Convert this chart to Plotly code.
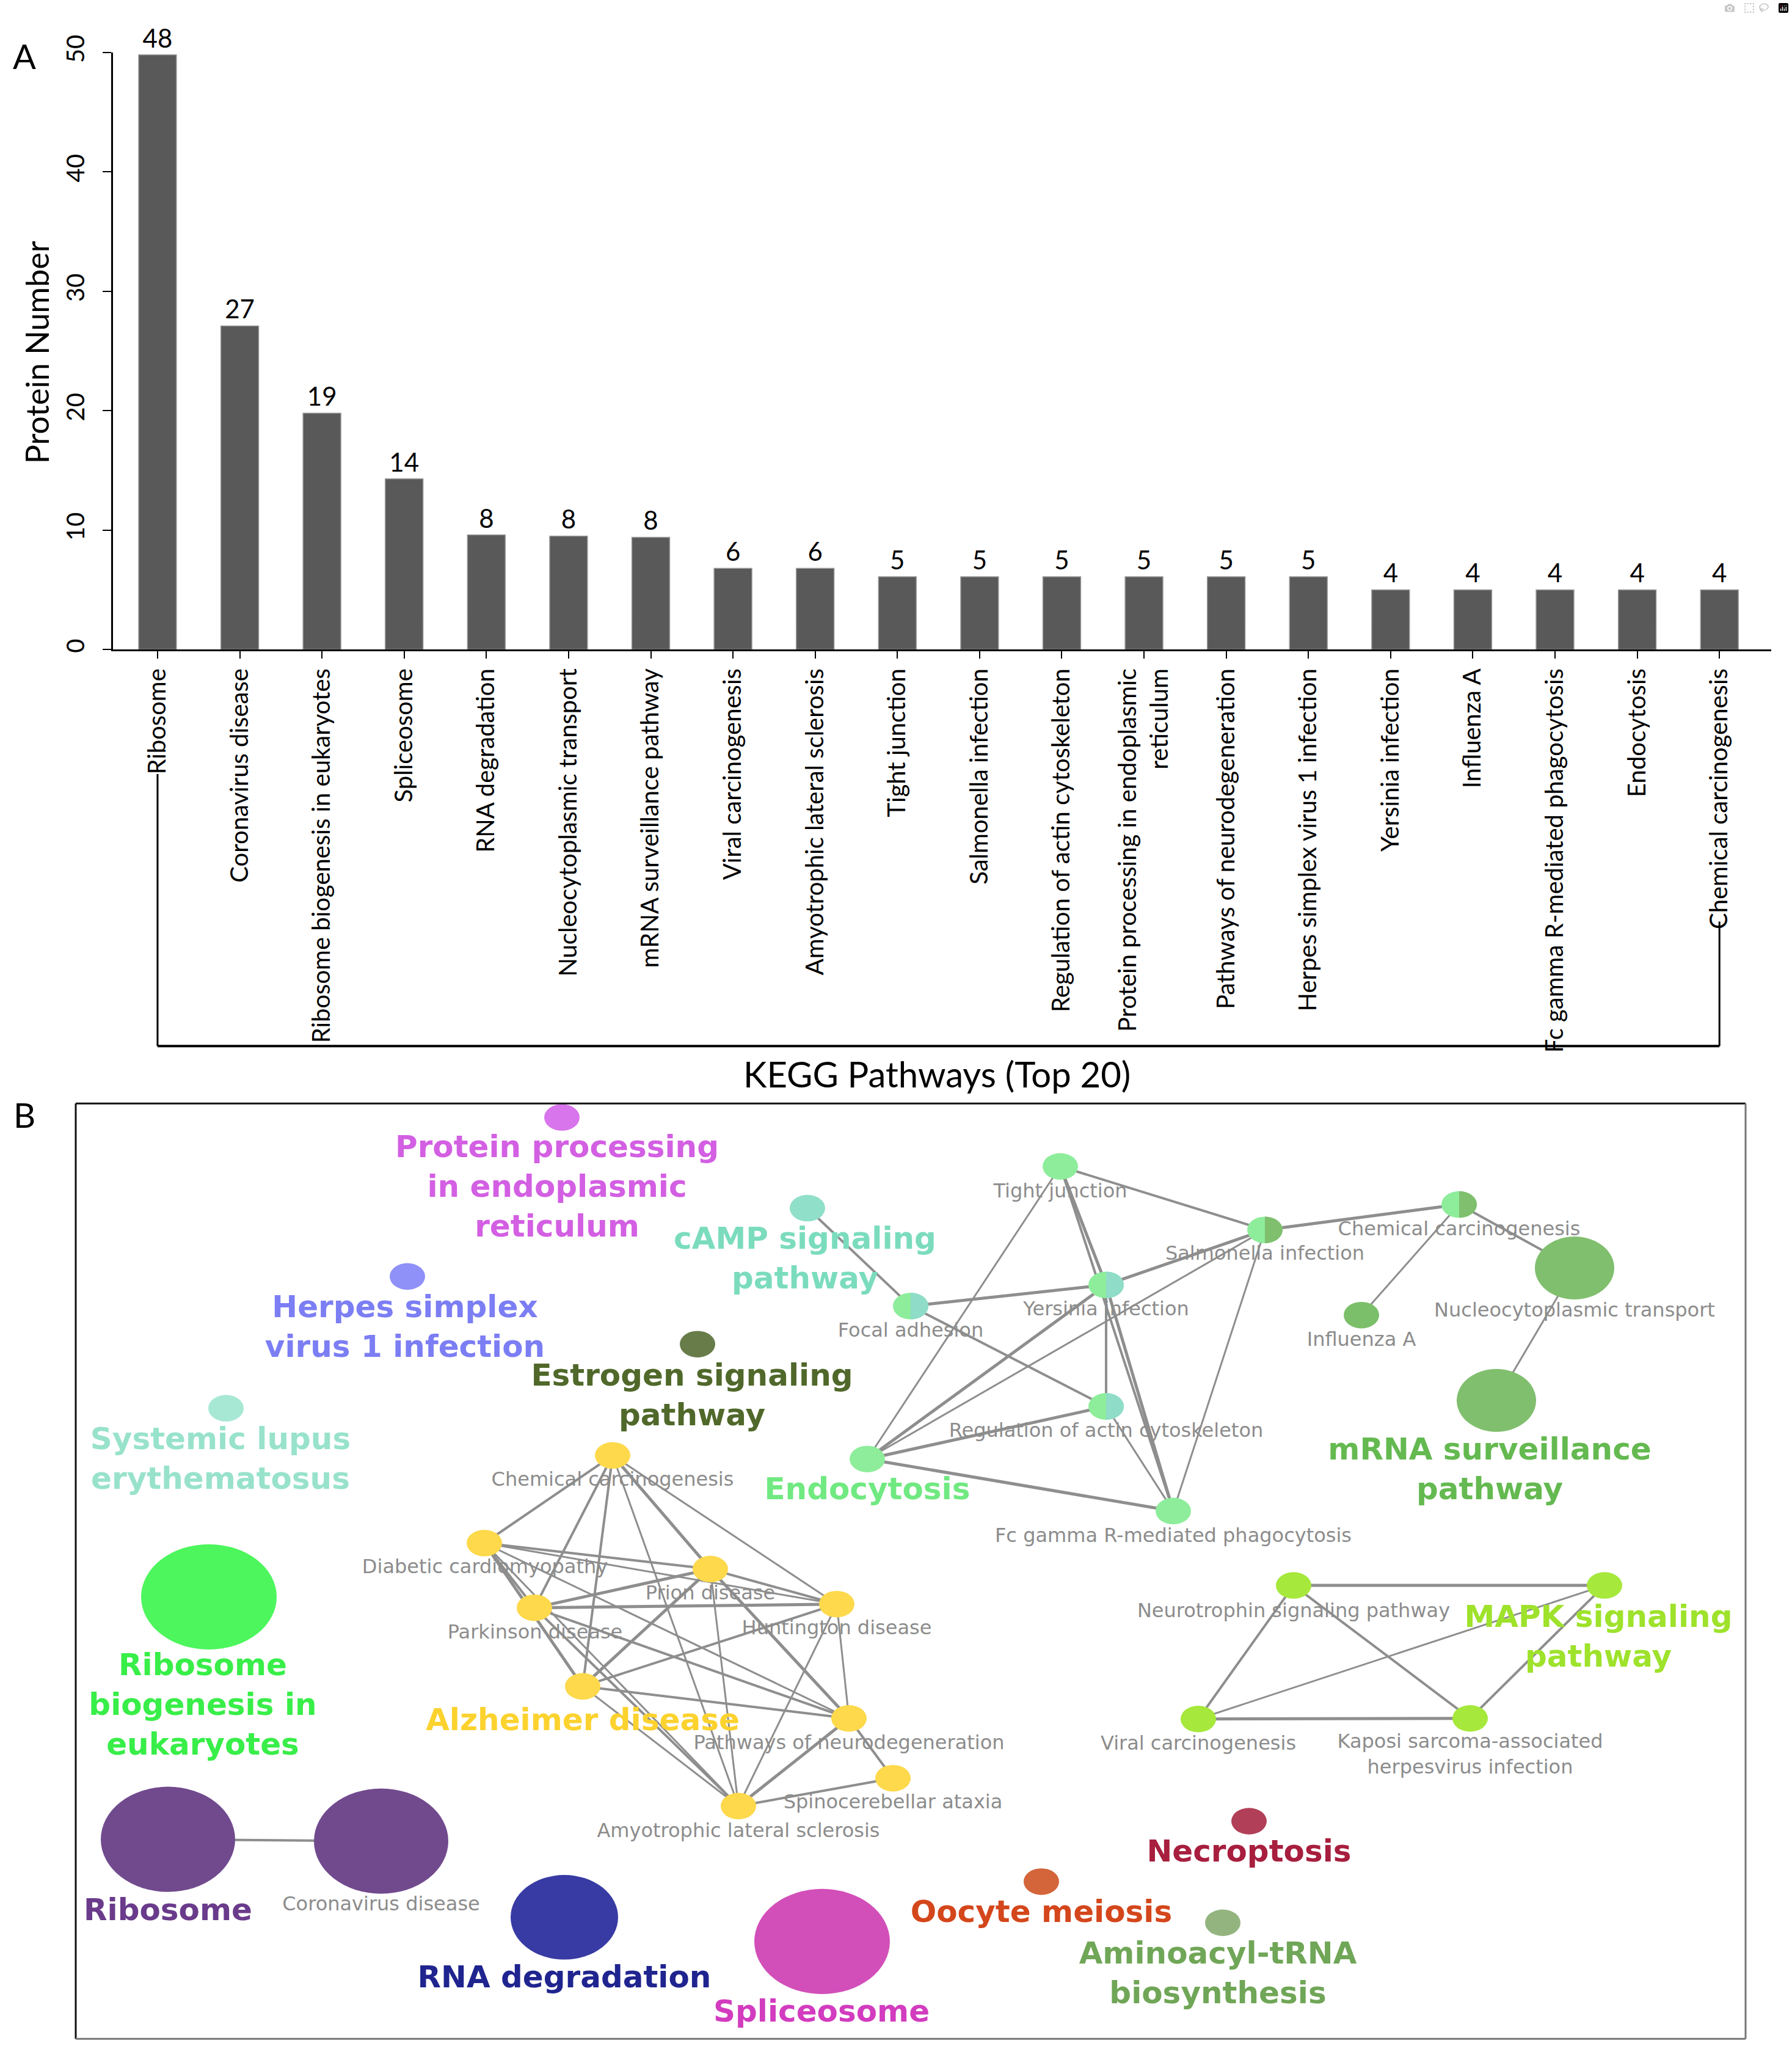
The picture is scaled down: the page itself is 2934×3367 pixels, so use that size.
import plotly.graph_objects as go

W, H = 2934, 3367

# ---------------- Panel A data ----------------
categories = ["Ribosome", "Coronavirus disease", "Ribosome biogenesis in eukaryotes", "Spliceosome",
              "RNA degradation", "Nucleocytoplasmic transport", "mRNA surveillance pathway",
              "Viral carcinogenesis", "Amyotrophic lateral sclerosis", "Tight junction",
              "Salmonella infection", "Regulation of actin cytoskeleton",
              "Protein processing in endoplasmic reticulum", "Pathways of neurodegeneration",
              "Herpes simplex virus 1 infection", "Yersinia infection", "Influenza A",
              "Fc gamma R-mediated phagocytosis", "Endocytosis", "Chemical carcinogenesis"]
tick_labels = ["Ribosome", "Coronavirus disease", "Ribosome biogenesis in eukaryotes", "Spliceosome",
               "RNA degradation", "Nucleocytoplasmic transport", "mRNA surveillance pathway",
               "Viral carcinogenesis", "Amyotrophic lateral sclerosis", "Tight junction",
               "Salmonella infection", "Regulation of actin cytoskeleton",
               "Protein processing in endoplasmic<br>reticulum", "Pathways of neurodegeneration",
               "Herpes simplex virus 1 infection", "Yersinia infection", "Influenza A",
               "Fc gamma R-mediated phagocytosis", "Endocytosis", "Chemical carcinogenesis"]
bar_heights = [49.8, 27.1, 19.8, 14.3, 9.6, 9.5, 9.4, 6.8, 6.8, 6.1, 6.1, 6.1, 6.1, 6.1, 6.1,
               5.0, 5.0, 5.0, 5.0, 5.0]
count_labels = [48, 27, 19, 14, 8, 8, 8, 6, 6, 5, 5, 5, 5, 5, 5, 4, 4, 4, 4, 4]
y_ticks = [0, 10, 20, 30, 40, 50]

# ---------------- Panel B data (network) ----------------
node_ids = ["PPER", "cAMP", "HSV", "EST", "SLE", "RBE", "RIB", "COV", "RNAD", "SPL", "OOC", "NEC", "AMI",
            "CHY", "DCM", "PRI", "PAR", "HUN", "ALZ", "PND", "SCA", "ALS",
            "TJ", "SAL", "CHG", "NCT", "INF", "MRS", "FA", "YER", "RAC", "END", "FCG",
            "NEU", "MAPK", "VIR", "KAP"]
node_x = [920, 1322, 667, 1142, 370, 342, 275, 624, 924, 1346, 1705, 2045, 2002,
          1003, 793, 1163, 875, 1370, 954, 1390, 1462, 1209,
          1736, 2071, 2389, 2578, 2229, 2450, 1491, 1811, 1811, 1420, 1921,
          2118, 2627, 1962, 2407]
node_y = [1819, 1969, 2082, 2194, 2300, 2612, 3013, 3016, 3142, 3182, 3083, 2983, 3151,
          2378, 2523, 2566, 2630, 2624, 2760, 2813, 2912, 2958,
          1900, 2005, 1963, 2068, 2146, 2287, 2131, 2096, 2297, 2384, 2470,
          2593, 2593, 2814, 2813]
node_rx = [29, 29, 29, 29, 29, 111, 110, 110, 88, 111, 29, 29, 29,
           29, 29, 29, 29, 29, 29, 29, 29, 29,
           29, 29, 29, 65, 29, 65, 29, 29, 29, 29, 29,
           29, 29, 29, 29]
node_ry = [22, 22, 22, 22, 22, 87, 87, 87, 70, 87, 22, 22, 22,
           22, 22, 22, 22, 22, 22, 22, 22, 22,
           22, 22, 22, 52, 22, 52, 22, 22, 22, 22, 22,
           22, 22, 22, 22]
node_color = ["#d874ec", "#8fdfc9", "#8f90f8", "#687c4a", "#a7e8d5", "#4cf65c", "#714a8e", "#714a8e",
              "#383ba3", "#d24fb9", "#d4643a", "#b13f57", "#93b47f"] + ["#fdd94b"] * 9 + \
             ["#8ded9b", "#8ded9b", "#8ded9b", "#80bf6e", "#7cbf6a", "#80bf6e", "#8ded9b", "#8ded9b",
              "#8ded9b", "#8ded9b", "#8ded9b"] + ["#a6e83b"] * 4
node_color2 = [None] * 13 + [None] * 9 + \
              [None, "#80bf6e", "#80bf6e", None, None, None, "#8fdcc8", "#8fdcc8", "#8fdcc8", None, None] + \
              [None] * 4

label_text = ["Protein processing<br>in endoplasmic<br>reticulum", "cAMP signaling<br>pathway",
              "Herpes simplex<br>virus 1 infection", "Estrogen signaling<br>pathway",
              "Systemic lupus<br>erythematosus", "Ribosome<br>biogenesis in<br>eukaryotes", "Ribosome",
              "Coronavirus disease", "RNA degradation", "Spliceosome", "Oocyte meiosis", "Necroptosis",
              "Aminoacyl-tRNA<br>biosynthesis",
              "Chemical carcinogenesis", "Diabetic cardiomyopathy", "Prion disease", "Parkinson disease",
              "Huntington disease", "Alzheimer disease", "Pathways of neurodegeneration",
              "Spinocerebellar ataxia", "Amyotrophic lateral sclerosis",
              "Tight junction", "Salmonella infection", "Chemical carcinogenesis",
              "Nucleocytoplasmic transport", "Influenza A", "mRNA surveillance<br>pathway",
              "Focal adhesion", "Yersinia infection", "Regulation of actin cytoskeleton", "Endocytosis",
              "Fc gamma R-mediated phagocytosis",
              "Neurotrophin signaling pathway", "MAPK signaling<br>pathway", "Viral carcinogenesis",
              "Kaposi sarcoma-associated<br>herpesvirus infection"]
label_x = [912, 1318, 663, 1133, 361, 332, 275, 624, 924, 1345, 1705, 2045, 1994,
           1003, 794, 1163, 876, 1370, 954, 1390, 1462, 1209,
           1736, 2071, 2389, 2578, 2229, 2439, 1491, 1811, 1811, 1420, 1921,
           2118, 2617, 1962, 2407]
label_y = [1938, 2056, 2170, 2283, 2388, 2795, 3134, 3122, 3245, 3302, 3137, 3037, 3239,
           2420, 2565, 2608, 2673, 2666, 2820, 2856, 2954, 3001,
           1943, 2046, 2006, 2140, 2189, 2405, 2174, 2138, 2339, 2438, 2513,
           2637, 2682, 2857, 2875]
label_big = [True, True, True, True, True, True, True, False, True, True, True, True, True,
             False, False, False, False, False, True, False, False, False,
             False, False, False, False, False, True, False, False, False, True, False,
             False, True, False, False]
label_color = ["#d35fe3", "#7bdcbd", "#7c7ef4", "#50682a", "#98e2cb", "#38ee48", "#6a3b8b", "#8c8c8c",
               "#1f248f", "#d23cbf", "#d4461b", "#a71e3e", "#70a657",
               "#8c8c8c", "#8c8c8c", "#8c8c8c", "#8c8c8c", "#8c8c8c", "#fcd22e", "#8c8c8c", "#8c8c8c",
               "#8c8c8c",
               "#8c8c8c", "#8c8c8c", "#8c8c8c", "#8c8c8c", "#8c8c8c", "#64b950", "#8c8c8c", "#8c8c8c",
               "#8c8c8c", "#70e981", "#8c8c8c",
               "#8c8c8c", "#9ee22b", "#8c8c8c", "#8c8c8c"]

edges = [("RIB", "COV", 4),
         ("cAMP", "FA", 4), ("TJ", "SAL", 4), ("TJ", "YER", 5), ("TJ", "FCG", 4), ("TJ", "END", 3),
         ("SAL", "CHG", 5), ("SAL", "YER", 5), ("SAL", "END", 3), ("SAL", "FCG", 3),
         ("CHG", "INF", 3), ("CHG", "NCT", 4), ("NCT", "MRS", 3),
         ("FA", "YER", 5), ("FA", "RAC", 4), ("YER", "RAC", 4), ("YER", "END", 5), ("YER", "FCG", 5),
         ("RAC", "END", 5), ("RAC", "FCG", 3), ("END", "FCG", 5),
         ("NEU", "MAPK", 5), ("NEU", "VIR", 4), ("NEU", "KAP", 4), ("MAPK", "VIR", 3),
         ("MAPK", "KAP", 4), ("VIR", "KAP", 5),
         ("CHY", "DCM", 4), ("CHY", "PAR", 4), ("CHY", "ALZ", 4), ("CHY", "ALS", 3), ("CHY", "PRI", 5),
         ("CHY", "HUN", 3),
         ("DCM", "PRI", 4), ("DCM", "HUN", 3), ("DCM", "PAR", 4), ("DCM", "ALZ", 5), ("DCM", "PND", 3),
         ("DCM", "ALS", 3),
         ("PAR", "PRI", 5), ("PAR", "HUN", 5), ("PAR", "PND", 4), ("PAR", "ALS", 4),
         ("PRI", "ALZ", 5), ("PRI", "ALS", 3), ("PRI", "HUN", 4), ("PRI", "PND", 5),
         ("HUN", "ALZ", 4), ("HUN", "PND", 3), ("HUN", "ALS", 3),
         ("ALZ", "PND", 4), ("ALZ", "ALS", 3),
         ("PND", "ALS", 5), ("PND", "SCA", 4), ("SCA", "ALS", 4)]

# ---------------- Figure ----------------
fig = go.Figure()

fig.add_trace(go.Bar(
    x=categories, y=bar_heights, text=[str(v) for v in count_labels],
    textposition="outside", textangle=0, constraintext="none", cliponaxis=False,
    textfont=dict(family="Lato", size=42, color="black"),
    marker=dict(color="#595959", line=dict(color="#9a9a9a", width=1.5)),
    width=0.46, xaxis="x", yaxis="y", showlegend=False, hoverinfo="skip"))

pos = {n: i for i, n in enumerate(node_ids)}
for wdt in sorted(set(e[2] for e in edges)):
    ex, ey = [], []
    for a, b, w in edges:
        if w != wdt:
            continue
        ex += [node_x[pos[a]], node_x[pos[b]], None]
        ey += [node_y[pos[a]], node_y[pos[b]], None]
    fig.add_trace(go.Scatter(x=ex, y=ey, mode="lines", line=dict(color="#8e8e8e", width=wdt),
                             xaxis="x2", yaxis="y2", showlegend=False, hoverinfo="skip"))

for big in (False, True):
    idx = [i for i in range(len(node_ids)) if label_big[i] == big]
    fig.add_trace(go.Scatter(
        x=[label_x[i] for i in idx], y=[label_y[i] for i in idx],
        text=[label_text[i] for i in idx], mode="text", textposition="middle center",
        textfont=dict(family="DejaVu Sans", size=50 if big else 32,
                      color=[label_color[i] for i in idx], weight="bold" if big else "normal"),
        xaxis="x2", yaxis="y2", showlegend=False, hoverinfo="skip", cliponaxis=False))

shapes = []
k = 0.5523
for i in range(len(node_ids)):
    x, y, rx, ry = node_x[i], node_y[i], node_rx[i], node_ry[i]
    shapes.append(dict(type="circle", xref="x2", yref="y2", x0=x - rx, x1=x + rx, y0=y - ry, y1=y + ry,
                       fillcolor=node_color[i], line=dict(width=0), layer="above"))
    if node_color2[i]:
        path = (f"M {x},{y - ry} C {x + k * rx},{y - ry} {x + rx},{y - k * ry} {x + rx},{y} "
                f"C {x + rx},{y + k * ry} {x + k * rx},{y + ry} {x},{y + ry} Z")
        shapes.append(dict(type="path", xref="x2", yref="y2", path=path,
                           fillcolor=node_color2[i], line=dict(width=0), layer="above"))

# panel B frame
for (x0, y0, x1, y1, c) in [(0, 1, 1, 1, "#111111"), (0, 0, 0, 1, "#111111"),
                            (1, 0, 1, 1, "#777777"), (0, 0, 1, 0, "#777777")]:
    shapes.append(dict(type="line", xref="x2 domain", yref="y2 domain", x0=x0, y0=y0, x1=x1, y1=y1,
                       line=dict(color=c, width=3)))

def py(p):
    return 1 - p / H

# bracket below the category labels
shapes += [
    dict(type="line", xref="x", yref="paper", x0=0, x1=0, y0=py(1251), y1=py(1701),
         line=dict(color="black", width=3)),
    dict(type="line", xref="x", yref="paper", x0=0, x1=19, y0=py(1701), y1=py(1701),
         line=dict(color="black", width=4)),
    dict(type="line", xref="x", yref="paper", x0=19, x1=19, y0=py(1495), y1=py(1701),
         line=dict(color="black", width=3)),
]

annotations = [
    dict(text="A", x=40 / W, y=py(63), xref="paper", yref="paper", showarrow=False,
         xanchor="center", yanchor="middle", font=dict(family="Lato", size=56, color="black")),
    dict(text="B", x=40 / W, y=py(1814), xref="paper", yref="paper", showarrow=False,
         xanchor="center", yanchor="middle", font=dict(family="Lato", size=56, color="black")),
    dict(text="Protein Number", x=60 / W, y=py(554), xref="paper", yref="paper", showarrow=False,
         xanchor="center", yanchor="middle",
         textangle=-90, font=dict(family="Lato", size=52, color="black")),
    dict(text="KEGG Pathways (Top 20)", x=1534 / W, y=py(1747), xref="paper", yref="paper",
         xanchor="center", yanchor="middle",
         showarrow=False, font=dict(family="Lato", size=58, color="black")),
]

fig.update_layout(
    width=W, height=H, margin=dict(l=0, r=0, t=0, b=0), autosize=False,
    paper_bgcolor="white", plot_bgcolor="rgba(0,0,0,0)", showlegend=False,
    xaxis=dict(domain=[185 / W, 2900 / W], range=[-0.542, 19.63], type="category",
               tickvals=categories, ticktext=tick_labels, tickangle=-90,
               tickfont=dict(family="Lato", size=40, color="black"),
               showline=True, linecolor="black", linewidth=3, ticks="outside", ticklen=12,
               tickwidth=2, tickcolor="black", showgrid=False, zeroline=False, ticklabelstandoff=0,
               fixedrange=True),
    yaxis=dict(domain=[py(1045), py(57.5)], range=[0, 50], tickvals=y_ticks, tickangle=-90,
               tickfont=dict(family="Lato", size=40, color="black"),
               showline=True, linecolor="black", linewidth=3, ticks="outside", ticklen=14,
               tickwidth=2, tickcolor="black", showgrid=False, zeroline=False, ticklabelstandoff=14,
               fixedrange=True),
    xaxis2=dict(domain=[124 / W, 2858 / W], range=[124, 2858], visible=False, fixedrange=True),
    yaxis2=dict(domain=[py(3343), py(1796)], range=[3343, 1796], visible=False, fixedrange=True),
    shapes=shapes, annotations=annotations,
)

fig.write_html("out.html", post_script="document.body.style.margin='0';")
